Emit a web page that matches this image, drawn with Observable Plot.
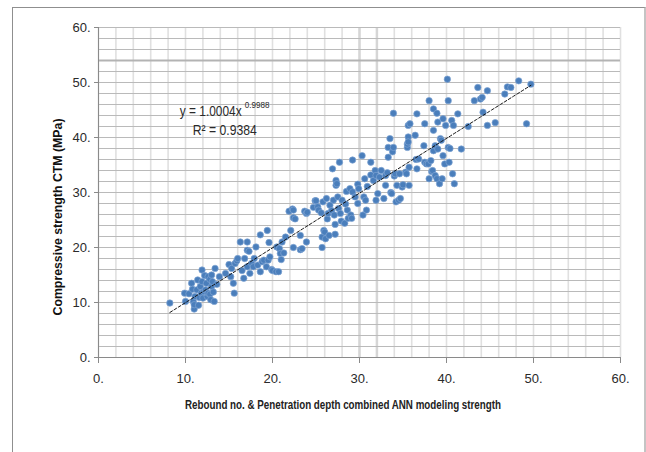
<!DOCTYPE html>
<html><head><meta charset="utf-8">
<script src="https://cdn.jsdelivr.net/npm/d3@7"></script>
<script src="https://cdn.jsdelivr.net/npm/@observablehq/plot@0.6"></script>
<style>
body{margin:0;background:#fff;overflow:hidden;}
#wrap{position:relative;width:646px;height:452px;overflow:hidden;}
#frame{position:absolute;left:12px;top:7px;width:631px;height:470px;border:1px solid #8f8f8f;border-right:2px solid #c4c4c4;}
#chart{position:absolute;left:0;top:0;}
</style></head><body><div id="wrap"><div id="frame"></div><div id="chart"></div></div>
<script>
// ANN combined strength (x) vs compressive strength CTM (y)
const xs = [
8.2,9.9,10.0,10.4,10.7,10.8,10.9,11.0,11.1,11.0,11.3,11.4,11.5,11.6,11.7,11.8,11.9,11.9,12.0,12.1,12.2,12.3,12.4,12.5,12.6,12.6,12.8,12.8,12.9,13.0,13.0,13.1,13.2,13.3,13.4,13.6,13.9,
14.6,15.0,15.2,15.3,15.5,15.6,15.7,15.9,16.0,16.3,16.5,16.7,16.8,17.1,17.1,17.1,17.3,17.4,17.6,17.8,17.9,18.1,18.3,18.6,18.6,18.8,19.0,19.3,19.4,19.5,19.6,19.7,19.9,20.0,20.4,20.5,20.7,20.8,20.9,21.0,21.1,
21.3,21.5,21.9,22.1,22.3,22.4,22.4,22.4,22.6,23.2,23.2,23.4,23.7,23.9,23.9,24.0,24.7,24.9,25.0,25.2,25.3,25.6,25.7,25.7,25.8,25.9,26.0,26.1,26.2,26.3,26.4,26.5,26.6,26.8,26.9,27.0,27.1,27.2,27.2,27.3,27.3,27.4,27.5,27.6,27.7,27.8,27.9,28.0,28.3,28.4,28.5,28.6,28.7,28.9,29.0,29.1,29.2,29.2,29.5,29.8,29.8,29.9,30.3,30.4,30.5,30.6,30.8,30.9,30.7,
31.3,31.3,31.6,31.8,31.9,31.9,32.1,32.3,32.5,32.8,33.0,33.0,33.2,33.3,33.3,33.5,33.6,33.7,33.8,33.9,33.9,34.0,34.1,34.2,34.3,34.5,34.6,34.7,34.9,35.0,35.3,35.4,35.5,35.5,35.6,35.6,35.8,35.7,35.7,35.6,36.4,36.5,36.6,36.6,36.8,37.4,37.5,37.5,37.7,37.9,38.0,38.0,38.2,38.3,38.4,38.5,38.5,38.5,38.7,38.7,38.9,38.9,39.0,39.0,39.2,39.3,39.4,39.5,39.6,39.6,39.8,39.9,40.1,40.2,40.2,40.3,40.4,40.6,40.7,40.8,40.9,41.3,41.7,42.5,
43.2,43.6,43.9,44.1,44.2,44.7,44.7,45.6,46.7,47.0,47.4,48.3,49.2,49.7
];
const ys = [
9.9,11.7,10.2,11.6,13.5,12.4,10.2,8.8,11.1,9.6,12.3,14.1,9.5,10.9,12.9,11.7,15.9,13.8,10.8,12.0,14.9,12.3,13.5,11.1,14.7,11.7,14.2,11.5,10.5,15.0,12.9,13.8,11.9,10.2,16.2,13.3,14.7,
15.3,16.9,14.7,16.2,13.5,11.7,17.1,17.6,18.0,21.0,15.8,14.4,18.0,21.0,19.5,16.5,19.3,15.3,17.1,16.5,18.0,20.1,16.8,15.6,22.3,17.4,17.7,16.5,23.1,17.7,20.9,18.3,16.0,15.8,15.6,20.1,15.6,19.8,18.9,17.8,21.0,
19.0,21.9,26.6,23.1,27.0,26.8,25.4,20.0,25.2,22.2,19.6,19.8,26.6,26.2,21.0,26.4,27.3,28.5,28.5,27.4,26.8,26.3,20.0,21.9,28.3,23.1,22.8,21.6,28.9,25.2,26.2,22.2,27.7,26.7,34.3,28.6,25.9,24.2,22.4,32.2,31.3,31.6,29.2,27.1,35.5,26.2,24.8,28.6,24.4,27.9,30.2,26.8,25.3,30.7,25.9,25.3,30.1,35.9,29.2,28.0,31.5,30.7,36.7,25.9,29.2,32.5,26.8,31.1,28.6,
35.5,33.2,32.2,34.0,33.1,28.6,29.8,32.8,34.0,28.9,31.3,33.1,33.6,36.4,38.2,39.8,30.0,29.8,37.4,44.4,38.2,33.0,33.4,28.3,31.3,28.6,33.4,28.9,31.0,31.4,33.7,33.4,38.2,38.8,40.1,42.2,42.5,31.3,34.6,39.2,40.4,36.0,44.3,34.3,36.1,38.5,35.5,42.5,35.2,35.2,46.7,32.5,35.8,33.8,34.0,41.3,45.2,37.6,38.5,33.1,44.4,32.5,42.8,37.9,31.6,39.8,39.5,32.5,36.7,43.4,35.2,42.2,50.6,46.7,38.2,35.5,38.0,43.1,33.4,42.2,31.6,44.3,37.9,42.0,
46.7,49.1,47.0,47.3,44.6,48.5,42.2,42.7,47.9,49.2,49.1,50.3,42.5,49.7
];
const xTicks = [0,10,20,30,40,50,60];
const yTicks = [0,10,20,30,40,50,60];
const xTickLabels = ["0.","10.","20.","30.","40.","50.","60."];
const yTickLabels = ["0.","10.","20.","30.","40.","50.","60."];
const gridStep = 2;
const trendA = 1.0004, trendB = 0.9988;
const equationText = "y = 1.0004x";
const equationExp = "0.9988";
const r2Text = "R² = 0.9384";
const xTitle = "Rebound no. & Penetration depth combined ANN modeling strength";
const yTitle = "Compressive strength CTM (MPa)";

const data = xs.map((x,i)=>({x, y: ys[i]}));
const xmin = d3.min(xs), xmax = d3.max(xs);
const trend = d3.range(xmin, xmax + 0.001, 0.25).concat([xmax]).map(x=>({x, y: trendA*Math.pow(x, trendB)}));
const grid = d3.range(0, 60 + 0.001, gridStep);
const font = "'Liberation Sans',Arial,sans-serif";

const chart = Plot.plot({
  width: 646, height: 452,
  marginLeft: 98, marginRight: 26, marginTop: 27, marginBottom: 95,
  x: {domain: [0,60]},
  y: {domain: [0,60]},
  style: {fontFamily: font, fontSize: "13px", color: "#2a2a2a", background: "transparent"},
  marks: [
    Plot.ruleX(grid, {stroke: "#e0e0e0", strokeWidth: 1.6}),
    Plot.ruleX([30,32], {stroke: "#d6d6d6", strokeWidth: 2.5}),
    Plot.ruleY(grid, {stroke: "#bababa", strokeWidth: 1}),
    Plot.ruleY([54], {stroke: "#b3b3b3", strokeWidth: 2.2}),
    Plot.ruleX([0], {stroke: "#8a8a8a"}),
    Plot.ruleY([0], {stroke: "#8a8a8a"}),
    Plot.axisX({ticks: xTicks, tickFormat: (d)=>xTickLabels[xTicks.indexOf(d)], tickSize: 6, tickPadding: 10, stroke: "#8a8a8a", label: null}),
    Plot.axisY({ticks: yTicks, tickFormat: (d)=>yTickLabels[yTicks.indexOf(d)], tickSize: 4, tickPadding: 4, stroke: "#8a8a8a", label: null}),
    Plot.dot(data, {x: "x", y: "y", r: 3.2, fill: "#4a7ebb", stroke: "#7ea3d3", strokeWidth: 0.7}),
    Plot.line(trend, {x: "x", y: "y", stroke: "#111", strokeWidth: 1, strokeDasharray: "3,2"})
  ]
});
document.getElementById("chart").appendChild(chart);

const svg = d3.select(chart);
const sx = chart.scale("x"), sy = chart.scale("y");
// equation annotation (horizontally condensed to mimic the narrow source font)
const eqX = sx.apply(9.4), eqY = sy.apply(43.8);
svg.append("g").attr("transform", `translate(${eqX},${eqY}) scale(0.85,1)`)
  .append("text").attr("text-anchor", "start")
  .attr("font-family", font).attr("font-size", "14px").attr("fill", "#2a2a2a")
  .text(equationText);
svg.append("g").attr("transform", `translate(${eqX + 65},${eqY - 8}) scale(0.85,1)`)
  .append("text").attr("text-anchor", "start")
  .attr("font-family", font).attr("font-size", "9.5px").attr("fill", "#2a2a2a")
  .text(equationExp);
svg.append("g").attr("transform", `translate(${sx.apply(10.9)},${sy.apply(40.3)}) scale(0.87,1)`)
  .append("text").attr("text-anchor", "start")
  .attr("font-family", font).attr("font-size", "14px").attr("fill", "#2a2a2a")
  .text(r2Text);
// axis titles
svg.append("text")
  .attr("x", 343).attr("y", 409)
  .attr("text-anchor", "middle")
  .attr("textLength", 316).attr("lengthAdjust", "spacingAndGlyphs")
  .attr("font-family", font).attr("font-size", "12px").attr("font-weight", "bold").attr("fill", "#222")
  .text(xTitle);
svg.append("text")
  .attr("transform", "translate(62,217) rotate(-90)")
  .attr("text-anchor", "middle")
  .attr("textLength", 197).attr("lengthAdjust", "spacingAndGlyphs")
  .attr("font-family", font).attr("font-size", "12.5px").attr("font-weight", "bold").attr("fill", "#111")
  .text(yTitle);
</script>
</body></html>
